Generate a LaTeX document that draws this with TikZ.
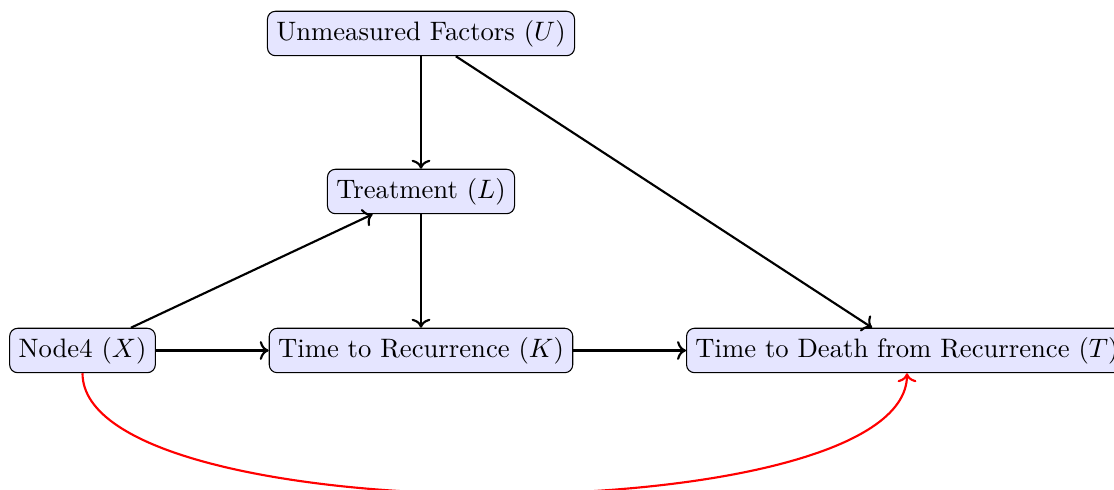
\documentclass[tikz,border=0pt]{standalone}
\usetikzlibrary{arrows.meta}
\begin{document}
\begin{tikzpicture}[x=0.375pt, y=-0.375pt,
  var/.style={draw=black, fill=blue!10, rounded corners=3pt, inner sep=3.33pt},
  edge/.style={->, thick, black},
  confound/.style={->, thick, red}]
\useasboundingbox (0,0) rectangle (1114,490);

% variables
\node[var] (U) at (421,33.5)  {Unmeasured Factors ($U$)};
\node[var] (L) at (421,191.5) {Treatment ($L$)};
\node[var] (X) at (82.5,350.5) {Node4 ($X$)};
\node[var] (K) at (421,350.5) {Time to Recurrence ($K$)};
\node[var] (T) at (907,350.5) {Time to Death from Recurrence ($T$)};

% causal edges
\draw[edge] (U) -- (L);
\draw[edge] (L) -- (K);
\draw[edge] (X) -- (K);
\draw[edge] (K) -- (T);
\draw[edge] (X) -- (L);
\draw[edge] (U) -- (T);

% direct path from X to T
\draw[confound] (X.south) to[out=-90, in=-90, looseness=0.5] (T.south);
\end{tikzpicture}
\end{document}
